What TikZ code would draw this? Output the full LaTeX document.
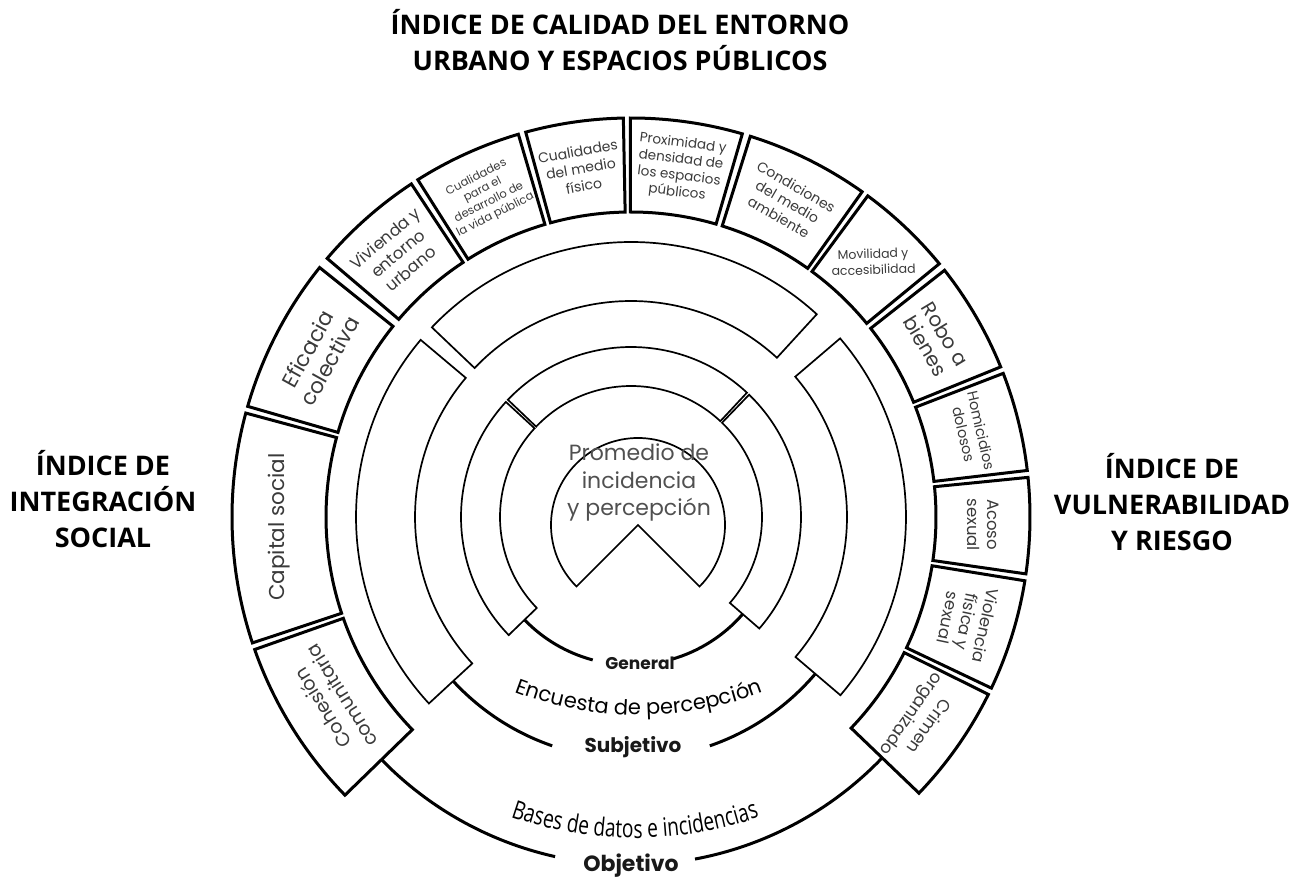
\documentclass[tikz,border=0pt]{standalone}
\usepackage{fontspec}
\usetikzlibrary{decorations.text}
\newfontfamily\pop{Poppins}
\newfontfamily\osans{Open Sans}
\newfontfamily\oscond{Open Sans}[FakeStretch=0.75]
\definecolor{txt}{HTML}{3A3A3A}
\definecolor{avgtxt}{HTML}{505050}
\newcommand\ringbox[5][]{\draw[#1] (#2:#4) arc[start angle=#2,end angle=#3,radius=#4] -- (#3:#5) arc[start angle=#3,end angle=#2,radius=#5] -- cycle;}
\newcommand\encfont{\pop\fontsize{21}{25}\selectfont}
\newcommand\basfont{\oscond\fontsize{25.5}{29}\selectfont}
\begin{document}
\begin{tikzpicture}[x=1pt,y=1pt,
  outerbox/.style={line width=3pt},
  innerbox/.style={line width=1.7pt},
  guide/.style={line width=3pt},
  boxtext/.style={text=txt, align=center, inner sep=0pt},
  lvl/.style={anchor=base, inner sep=0pt, text=black!90},
  title/.style={font=\osans\bfseries\fontsize{27}{36}\selectfont, align=center, inner sep=0pt}]
\useasboundingbox (0,0) rectangle (1303,878);
% titles
\node[title] (t1) at (620,837.5) {ÍNDICE DE CALIDAD DEL ENTORNO\\URBANO Y ESPACIOS PÚBLICOS};
\node[title] (t2) at (103,379) {ÍNDICE DE\\INTEGRACIÓN\\SOCIAL};
\node[title] (t3) at (1172,376) {ÍNDICE DE\\VULNERABILIDAD\\Y RIESGO};

\begin{scope}[shift={(631,361)}]
% outer ring of boxes
\ringbox[outerbox]{-43.8}{-26.4}{305pt}{399pt}
\ringbox[outerbox]{-25.4}{-9.2}{305pt}{399pt}
\ringbox[outerbox]{-8.2}{5.7}{305pt}{399pt}
\ringbox[outerbox]{6.7}{21.1}{305pt}{399pt}
\ringbox[outerbox]{22.1}{38.2}{305pt}{399pt}
\ringbox[outerbox]{39.4}{53.6}{305pt}{399pt}
\ringbox[outerbox]{54.6}{72.6}{305pt}{399pt}
\ringbox[outerbox]{73.8}{90.1}{305pt}{399pt}
\ringbox[outerbox]{91.1}{105.3}{305pt}{399pt}
\ringbox[outerbox]{106.4}{122.3}{305pt}{399pt}
\ringbox[outerbox]{123.4}{139.6}{305pt}{399pt}
\ringbox[outerbox]{141.3}{163.9}{305pt}{399pt}
\ringbox[outerbox]{164.9}{198.4}{305pt}{399pt}
\ringbox[outerbox]{199.4}{224.2}{305pt}{399pt}
% ring B
\ringbox[innerbox]{47.5}{136.4}{216pt}{275pt}
\ringbox[innerbox]{139.9}{222.7}{216pt}{275pt}
\ringbox[innerbox]{-40.4}{40.5}{216pt}{275pt}
% ring A
\ringbox[innerbox]{47.0}{136.4}{131pt}{170pt}
\ringbox[innerbox]{137.4}{224.0}{131pt}{170pt}
\ringbox[innerbox]{-41.0}{46.0}{131pt}{170pt}
% guide arcs
\draw[guide] (224:148pt) arc[start angle=224,end angle=255,radius=148pt];
\draw[guide] (286:148pt) arc[start angle=286,end angle=319,radius=148pt];
\draw[guide] (222.7:242pt) arc[start angle=222.7,end angle=251,radius=242pt];
\draw[guide] (289:242pt) arc[start angle=289,end angle=319.6,radius=242pt];
\draw[guide] (224.2:348pt) arc[start angle=224.2,end angle=257.4,radius=348pt];
\draw[guide] (280.6:348pt) arc[start angle=280.6,end angle=316.2,radius=348pt];
% box labels
\node[boxtext, rotate=-125, font=\pop\fontsize{17}{21}\selectfont] (crim) at (-35.1:352pt) {Crimen\\organizado};
\node[boxtext, rotate=-102, font=\pop\fontsize{16.5}{19}\selectfont] (viol) at (-17.3:352pt) {Violencia\\física y\\sexual};
\node[boxtext, rotate=-90, font=\pop\fontsize{16.5}{20}\selectfont] (acos) at (-1.25:352pt) {Acoso\\sexual};
\node[boxtext, rotate=-77, font=\pop\fontsize{14.5}{18}\selectfont] (homi) at (13.9:352pt) {Homicidios\\dolosos};
\node[boxtext, rotate=-59, font=\pop\fontsize{20}{23}\selectfont] (robo) at (30.15:352pt) {Robo a\\bienes};
\node[boxtext, rotate=2, font=\pop\fontsize{12.5}{16}\selectfont] (movi) at (46.5:352pt) {Movilidad y\\accesibilidad};
\node[boxtext, rotate=-30, font=\pop\fontsize{14}{17.5}\selectfont] (cond) at (63.6:352pt) {Condiciones\\del medio\\ambiente};
\node[boxtext, rotate=-7, font=\pop\fontsize{13.5}{16.5}\selectfont] (prox) at (82:352pt) {Proximidad y\\densidad de\\los espacios\\públicos};
\node[boxtext, rotate=10, font=\pop\fontsize{14}{17.5}\selectfont] (cmed) at (98.2:352pt) {Cualidades\\del medio\\físico};
\node[boxtext, rotate=27, font=\pop\fontsize{11.5}{14}\selectfont] (cdes) at (114.35:352pt) {Cualidades\\para el\\desarrollo de\\la vida pública};
\node[boxtext, rotate=40, font=\pop\fontsize{16.5}{20}\selectfont] (vivi) at (131.5:352pt) {Vivienda y\\entorno\\urbano};
\node[boxtext, rotate=61, font=\pop\fontsize{21.5}{25}\selectfont] (efic) at (152.6:352pt) {Eficacia\\colectiva};
\node[boxtext, rotate=90, font=\pop\fontsize{21.5}{26}\selectfont] (capi) at (181.65:352pt) {Capital social};
\node[boxtext, rotate=122, font=\pop\fontsize{19}{23}\selectfont] (cohe) at (211.8:352pt) {Cohesión\\comunitaria};
\end{scope}

% centre
\draw[innerbox] (638,353) ++(-45:87pt) arc[start angle=-45,end angle=225,radius=87pt] -- (638,353) -- cycle;
\node[font=\pop\fontsize{22}{27.5}\selectfont, text=avgtxt, align=center, inner sep=0pt] (avg) at (639,395.5) {Promedio de\\incidencia\\y percepción};

% level labels
\node[lvl, font=\pop\bfseries\fontsize{17}{20}\selectfont] (gen) at (640,208) {General};
\node[lvl, font=\pop\bfseries\fontsize{20}{24}\selectfont] (sub) at (633,125) {Subjetivo};
\node[lvl, font=\pop\bfseries\fontsize{22}{26}\selectfont] (obj) at (631,6.3) {Objetivo};

% curved labels
\path[decorate, decoration={text along path, text={|\encfont|Encuesta de percepción}, text align=center}]
  (639,512) ++(245:349pt) arc[start angle=245,end angle=295,radius=349pt];
\path[decorate, decoration={text along path, text={|\basfont|Bases de datos e incidencias}, text align=center}]
  (635,420) ++(246:380pt) arc[start angle=246,end angle=294,radius=380pt];
\end{tikzpicture}
\end{document}
